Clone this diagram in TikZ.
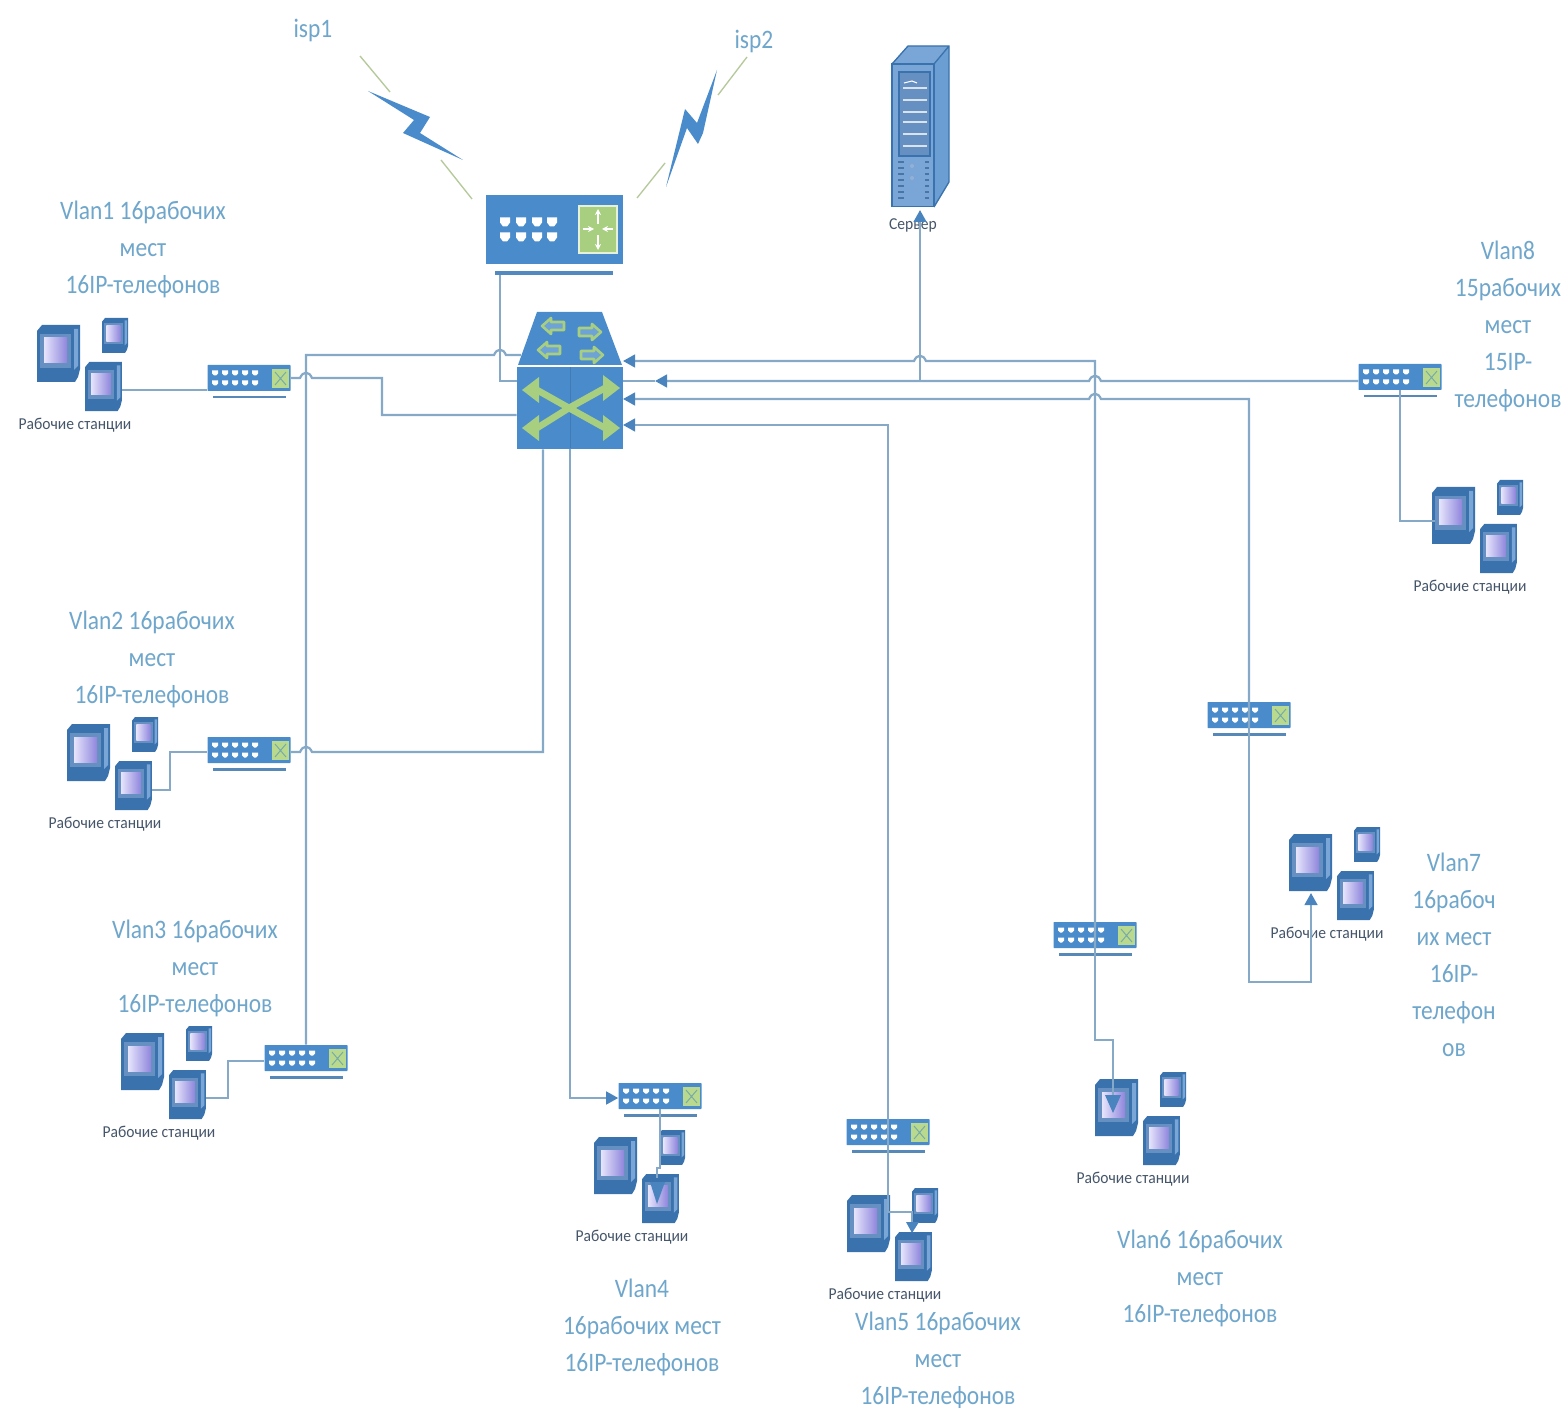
\documentclass[tikz,border=0pt]{standalone}
\usepackage{fontspec}
\setmainfont{Carlito}
\newfontfamily\vlanfont[FakeStretch=0.88]{Carlito}
\newfontfamily\wsfont[FakeStretch=0.935]{Carlito}
\usetikzlibrary{arrows.meta,calc}
\definecolor{devblue}{HTML}{4A8CCB}
\definecolor{devgreen}{HTML}{A8CF80}
\definecolor{swgreen}{HTML}{B9D98F}
\definecolor{linecol}{HTML}{86A9C8}
\definecolor{tipcol}{HTML}{4A84BE}
\definecolor{labcol}{HTML}{6FA6CB}
\definecolor{wscol}{HTML}{46566A}
\definecolor{pcdark}{HTML}{3A72AD}
\definecolor{pcmid}{HTML}{6690C2}
\definecolor{pcside}{HTML}{79A6D6}
\definecolor{scrin}{HTML}{E6E4FC}
\definecolor{scrout}{HTML}{8F86DC}
\definecolor{olive}{HTML}{B5C99A}
\tikzset{
  conn/.style={draw=linecol,line width=1.7pt,line join=miter},
  tipconn/.style={conn,-{Triangle[length=9pt,width=9.5pt,color=tipcol]}},
  swbox/.style={fill=devblue,inner sep=0pt,minimum width=62.25pt,minimum height=19.5pt,rounded corners=0.5pt},
  vlanlab/.style={font=\vlanfont\fontsize{20}{27.7}\selectfont,text=labcol,align=center,inner sep=0pt,yshift=-0.8pt},
  wslab/.style={font=\wsfont\fontsize{12.5}{14}\selectfont,text=wscol,inner sep=0pt,yshift=-0.8pt},
  pcmark/.style={inner sep=0pt,minimum width=27.75pt,minimum height=36pt},
  bigarrow/.style={draw=devgreen,line width=5pt},
  bolt/.style={fill=devblue},
  radio/.style={draw=olive,line width=1pt},
  wharrow/.style={white,line width=1.1pt,-{Stealth[length=4.5pt,width=4.5pt]}},
}
\newcommand\portshape[2]{\fill[white] (#1-3,#2-2.5) -- (#1+3,#2-2.5) -- (#1+3,#2+0.5) -- (#1+1,#2+2.5) -- (#1-1,#2+2.5) -- (#1-3,#2+0.5) -- cycle;}
\newcommand\bigport[2]{\fill[white] (#1-5,#2-4.5) -- (#1+5,#2-4.5) -- (#1+5,#2+0.5) -- (#1+2,#2+4.5) -- (#1-2,#2+4.5) -- (#1-5,#2+0.5) -- cycle;}
\newcommand\smallswitch[3]{%
  \node[swbox] (#1) at (#2,#3) {};
  \begin{scope}[shift={(#2,#3)}]
    \fill[devblue!75!gray] (-36,18) rectangle (37,20.5);
    \foreach \px in {-34,-24,-14,-4,6}{\portshape{\px}{-5}\portshape{\px}{5}}
    \fill[swgreen] (23,-9) rectangle (40,10);
    \draw[devblue!55!devgreen,line width=0.7pt] (26,-6) -- (37,7) (37,-6) -- (26,7);
  \end{scope}}
\newcommand\pcicon[3]{%
  \begin{scope}[shift={(#1,#2)},scale=#3]
    \fill[pcdark] (0,6) -- (5,0) -- (43,0) -- (43,44) -- (41,52) -- (38,57) -- (0,57) -- cycle;
    \fill[pcside] (37,4) -- (41,4) -- (41,41) -- (37,45) -- cycle;
    \fill[pcmid] (3,9) rectangle (34,43);
    \shade[left color=scrin,right color=scrout] (7,13) rectangle (30,38);
  \end{scope}}
% name, x and y of the group's top-left corner
\newcommand\wsgroup[3]{%
  \pcicon{#2}{#3+7}{1}
  \pcicon{#2+65}{#3}{0.61}
  \pcicon{#2+48}{#3+44}{0.86}
  \node[pcmark] (#1-big) at (#2+21.5,#3+35.5) {};
  \node[pcmark] (#1-mid) at (#2+66.5,#3+68) {};
  \node[wslab] (#1-lab) at (#2+38,#3+106) {Рабочие станции};}
\newcommand\smallgarrow[4]{%
  \begin{scope}[shift={(#1,#2)},xscale=#3,rotate=#4]
    \filldraw[fill=devblue!80!white,draw=devgreen,line width=1.9pt,line join=round]
      (-11,0) -- (-2,-8) -- (-2,-4) -- (11,-4) -- (11,4) -- (-2,4) -- (-2,8) -- cycle;
  \end{scope}}
\begin{document}
\begin{tikzpicture}[x=0.75pt,y=-0.75pt]
\useasboundingbox (0,0) rectangle (1567,1408);
\fill[white] (0,0) rectangle (1567,1408);

% ---------- labels
\node[vlanlab] (lisp1) at (313,29) {isp1};
\node[vlanlab] (lisp2) at (754,40) {isp2};
\node[vlanlab] (lv1) at (143,248) {Vlan1 16рабочих\\мест\\16IP-телефонов};
\node[vlanlab] (lv2) at (152,658) {Vlan2 16рабочих\\мест\\16IP-телефонов};
\node[vlanlab] (lv3) at (195,967) {Vlan3 16рабочих\\мест\\16IP-телефонов};
\node[vlanlab] (lv4) at (642,1326) {Vlan4\\16рабочих мест\\16IP-телефонов};
\node[vlanlab] (lv5) at (938,1359) {Vlan5 16рабочих\\мест\\16IP-телефонов};
\node[vlanlab] (lv6) at (1200,1277) {Vlan6 16рабочих\\мест\\16IP-телефонов};
\node[vlanlab] (lv7) at (1454,954) {Vlan7\\16рабоч\\их мест\\16IP-\\телефон\\ов};
\node[vlanlab] (lv8) at (1508,325) {Vlan8\\15рабочих\\мест\\15IP-\\телефонов};

% ---------- edge router
\node[fill=devblue,inner sep=0pt,minimum width=102.75pt,minimum height=51.75pt] (edge) at (554.5,229.5) {};
\fill[devblue!85!gray] (495,271) rectangle (613,275);
\foreach \px in {505,521,537,552}{\bigport{\px}{222}\bigport{\px}{237}}
\filldraw[fill=devgreen,draw=white!70!devgreen,line width=1pt] (579,206) rectangle (617,253);
\draw[wharrow] (598,224) -- (598,209);
\draw[wharrow] (598,235) -- (598,250);
\draw[wharrow] (583,229) -- (594,229);
\draw[wharrow] (613,229) -- (602,229);

% ---------- core switch
\fill[devblue] (537,312) -- (602,312) -- (622,365) -- (518,365) -- cycle;
\node[fill=devblue,inner sep=0pt,minimum width=79.5pt,minimum height=61.5pt] (core) at (570,408) {};
\smallgarrow{553}{326}{1}{0}
\smallgarrow{549}{350}{1}{0}
\smallgarrow{590}{332}{-1}{0}
\smallgarrow{592}{355}{-1}{0}
\draw[devblue!70!black!40!devblue,line width=0.5pt] (570,367) -- (570,448);
\coordinate (cx) at (569,408);
\draw[bigarrow] (cx) -- (537,390) (cx) -- (537,428) (cx) -- (605,388) (cx) -- (605,428);
\fill[devgreen] (522,390) -- (539,377) -- (539,403) -- cycle;
\fill[devgreen] (522,428) -- (539,415) -- (539,441) -- cycle;
\fill[devgreen] (620,388) -- (603,375) -- (603,401) -- cycle;
\fill[devgreen] (620,428) -- (603,415) -- (603,441) -- cycle;

% ---------- server
\fill[pcside] (892,64) -- (908,46) -- (949,46) -- (934,64) -- cycle;
\fill[pcside!70!devblue] (934,64) -- (949,46) -- (949,182) -- (934,207) -- cycle;
\node[fill=pcside,draw=pcdark,line width=1pt,inner sep=0pt,minimum width=31.5pt,minimum height=107pt] (server) at (913,135.5) {};
\draw[pcdark,line width=1pt] (892,64) -- (908,46) -- (949,46) -- (949,182) -- (934,207) (934,64) -- (949,46);
\filldraw[fill=pcmid,draw=pcdark,line width=0.8pt] (899,72) rectangle (930,156);
\foreach \ly in {88,100,112,122,134,146}{\draw[white!75!pcmid,line width=1pt] (903,\ly) -- (927,\ly);}
\draw[white,line width=0.8pt] (904,83) -- (912,81) -- (917,83);
\foreach \ly in {162,168,174,180,186,192,198}{
  \draw[pcdark!80!gray,line width=1pt] (898,\ly) -- (904,\ly) (925,\ly) -- (929,\ly);}
\fill[pcmid!70!white] (912,166) circle (2) (912,178) circle (2);
\node[wslab] (srvlab) at (913,224) {Сервер};

% ---------- radio links
\draw[radio] (360,56) -- (390,92);
\draw[radio] (441,160) -- (472,199);
\draw[radio] (747,57) -- (718,95);
\draw[radio] (665,163) -- (637,198);
\fill[bolt] (368,91) -- (430,117) -- (420,133) -- (463,160) -- (403,133) -- (414,120) -- cycle;
\fill[bolt] (717,70) -- (703,133) -- (698,144) -- (687,128) -- (666,187) -- (685,109) -- (697,123) -- cycle;

% ---------- access switches and workstations
\smallswitch{s1}{249}{378}
\smallswitch{s2}{249}{750}
\smallswitch{s3}{306}{1058}
\smallswitch{s4}{660}{1096}
\smallswitch{s5}{888}{1132}
\smallswitch{s6}{1095}{935}
\smallswitch{s7}{1249}{715}
\smallswitch{s8}{1400}{377}
\wsgroup{w1}{37}{318}
\wsgroup{w2}{67}{717}
\wsgroup{w3}{121}{1026}
\wsgroup{w4}{594}{1130}
\wsgroup{w5}{847}{1188}
\wsgroup{w6}{1095}{1072}
\wsgroup{w7}{1289}{827}
\wsgroup{w8}{1432}{480}

% ---------- named free ends on the core
\coordinate (in6) at (623,361);
\coordinate (in8) at (655,381);
\coordinate (in7) at (623,399);
\coordinate (in5) at (623,425);
\coordinate (srvin) at (920,210);

% ---------- connectors
% access switches to their workstations
\draw[conn] (w1-mid.east |- 0,390) -- (s1.west |- 0,390);
\draw[conn] (w2-mid.east |- 0,790) -- (170,790) -- (170,752) -- (s2.west |- 0,752);
\draw[conn] (w3-mid.east |- 0,1098) -- (228,1098) -- (228,1061) -- (s3.west |- 0,1061);

% vlan1 to core
\draw[conn] (s1.east) -- (300,378) .. controls (303,371) and (309,371) .. (312,378) -- (382,378) -- (382,415) -- (core.west |- 0,415);
% vlan2 to core
\draw[conn] (s2.east |- 0,752) -- (300,752) .. controls (303,745) and (309,745) .. (312,752) -- (543,752) -- (core.south -| 543,0);
% vlan3 to core
\draw[conn] (s3.north) -- (306,355) -- (494,355) .. controls (497,348) and (503,348) .. (506,355) -- (521,355);
% edge router to core
\draw[conn] (500,275) -- (500,381) -- (core.west |- 0,381);
% vlan4
\draw[tipconn] (570,449) -- (570,1098) -- (s4.west |- 0,1098);
\draw[conn] (s4.south) -- (660,1168) -- (657,1168) -- (657,1178);
\fill[tipcol] (650,1182) -- (665,1182) -- (657,1204) -- cycle;
% vlan5
\draw[tipconn] (s5.south) -- (888,425) -- (in5);
\draw[conn] (s5.south) -- (888,1212) -- (912,1212) -- (912,1222);
\fill[tipcol] (906,1222) -- (919,1222) -- (912,1233) -- cycle;
% vlan6
\draw[tipconn] (s6.south) -- (1095,361) -- (926,361) .. controls (923,354) and (917,354) .. (914,361) -- (in6);
\draw[conn] (s6.south) -- (1095,1040) -- (1113,1040) -- (1113,1095);
\fill[tipcol] (1105,1095) -- (1121,1095) -- (1113,1113) -- cycle;
% vlan7
\draw[tipconn] (s7.south) -- (1249,399) -- (1101,399) .. controls (1098,392) and (1092,392) .. (1089,399) -- (in7);
\draw[tipconn] (s7.south) -- (1249,982) -- (1311,982) -- (1311,893);
% vlan8
\draw[tipconn] (s8.west |- 0,381) -- (1101,381) .. controls (1098,374) and (1092,374) .. (1089,381) -- (in8);
\draw[conn] (in8) -- (core.east |- in8);
\draw[conn] (1400,390) -- (1400,521) -- (w8-big.west |- 0,521);
% server
\draw[tipconn] (920,381) -- (srvin);
\end{tikzpicture}
\end{document}
